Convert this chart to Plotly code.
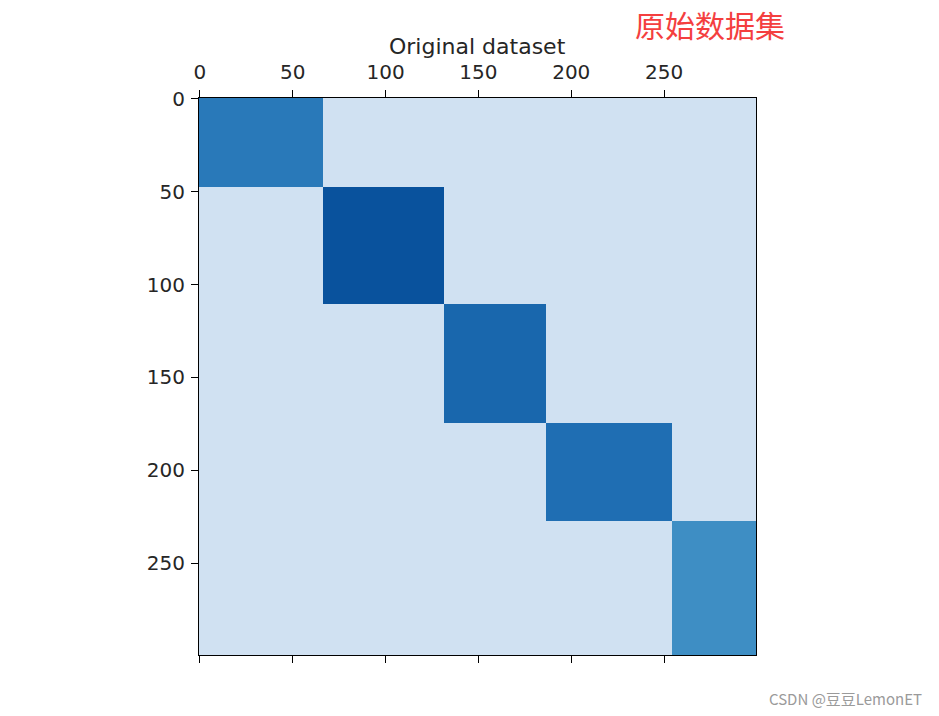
import numpy as np
import plotly.graph_objects as go

# Bicluster block layout (row / column boundaries, matrix index units)
row_edges = [0, 48, 111, 175, 228, 300]
col_edges = [0, 67, 132, 187, 255, 300]
# Colour level of each diagonal bicluster (0..1 on the Blues scale)
block_levels = [0.72, 0.87, 0.79, 0.76, 0.64]
background_level = 0.20

x_ticks = [0, 50, 100, 150, 200, 250]
y_ticks = [0, 50, 100, 150, 200, 250]

n_rows = row_edges[-1]
n_cols = col_edges[-1]
z = np.full((n_rows, n_cols), background_level)
for k, lvl in enumerate(block_levels):
    z[row_edges[k]:row_edges[k + 1], col_edges[k]:col_edges[k + 1]] = lvl

blues = ["#f7fbff", "#deebf7", "#c6dbef", "#9ecae1", "#6baed6",
         "#4292c6", "#2171b5", "#08519c", "#08306b"]
colorscale = [[i / 8, c] for i, c in enumerate(blues)]

W, H = 939, 716
L, T = 199, 98
R = W - 756
B = H - 655

fig = go.Figure()
fig.add_trace(go.Heatmap(
    z=z, x=np.arange(n_cols), y=np.arange(n_rows),
    colorscale=colorscale, zmin=0, zmax=1, showscale=False,
    hoverinfo="skip",
))
# invisible trace to attach the bottom tick-only axis
fig.add_trace(go.Scatter(x=[0], y=[0], xaxis="x2", mode="markers",
                         marker=dict(opacity=0), showlegend=False, hoverinfo="skip"))

tick_font = dict(family="DejaVu Sans", size=20, color="#262626")
fig.update_layout(
    width=W, height=H,
    paper_bgcolor="white", plot_bgcolor="white",
    margin=dict(l=L, r=R, t=T, b=B, autoexpand=False),
    showlegend=False,
    xaxis=dict(
        side="top", range=[-0.5, n_cols - 0.5], tickvals=x_ticks,
        ticks="outside", ticklen=7, tickwidth=1.2, tickcolor="black",
        showline=True, linecolor="black", linewidth=1.2, mirror=True,
        showgrid=False, zeroline=False, tickfont=tick_font,
        ticklabelstandoff=3,
    ),
    xaxis2=dict(
        overlaying="x", side="bottom", range=[-0.5, n_cols - 0.5],
        tickvals=x_ticks, showticklabels=False,
        ticks="outside", ticklen=7, tickwidth=1.2, tickcolor="black",
        showgrid=False, zeroline=False, showline=False,
    ),
    yaxis=dict(
        range=[n_rows - 0.5, -0.5], tickvals=y_ticks,
        ticks="outside", ticklen=7, tickwidth=1.2, tickcolor="black",
        showline=True, linecolor="black", linewidth=1.2, mirror=True,
        showgrid=False, zeroline=False, tickfont=tick_font,
        ticklabelstandoff=2,
    ),
)

pw = W - L - R
ph = H - T - B


def px_to_paper(px, py):
    return (px - L) / pw, (H - B - py) / ph


tx, ty = px_to_paper(477, 47)
rx, ry = px_to_paper(710, 24)
wx, wy = px_to_paper(924, 698)
fig.update_layout(annotations=[
    dict(text="Original dataset", xref="paper", yref="paper",
         x=tx, y=ty, xanchor="center", yanchor="middle",
         showarrow=False, font=dict(family="DejaVu Sans", size=22, color="#262626")),
    dict(text="原始数据集", xref="paper", yref="paper",
         x=rx, y=ry, xanchor="center", yanchor="middle", showarrow=False,
         font=dict(family="Noto Sans CJK SC", size=30, color="#f43f3f")),
    dict(text="CSDN @豆豆LemonET", xref="paper", yref="paper",
         x=wx, y=wy, xanchor="right", yanchor="middle", showarrow=False,
         font=dict(family="Noto Sans CJK SC", size=15, color="#9a9a9a")),
])

fig.write_html(
    "out.html",
    config={"displayModeBar": False},
    post_script="document.body.style.margin='0px';document.body.style.overflow='hidden';",
)
